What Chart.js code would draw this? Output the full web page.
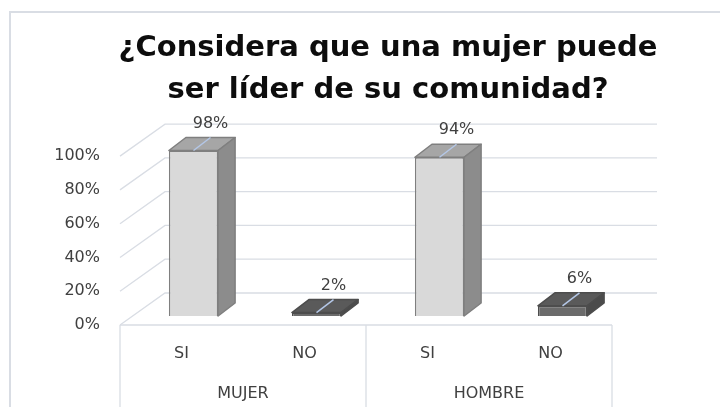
<!DOCTYPE html>
<html>
<head>
<meta charset="utf-8">
<script src="https://cdn.jsdelivr.net/npm/chart.js@4/dist/chart.umd.min.js"></script>
<style>
  html, body { margin: 0; padding: 0; background: #fff; }
  #wrap { width: 720px; height: 407px; }
</style>
</head>
<body>
<div id="wrap"><canvas id="chart"></canvas></div>
<script>
// data
const categories = ['SI', 'NO', 'SI', 'NO'];
const groups = ['MUJER', 'HOMBRE'];
const values = [98, 2, 94, 6];
const yTicks = [0, 20, 40, 60, 80, 100];
const titleLines = ['¿Considera que una mujer puede', 'ser líder de su comunidad?'];

// look
const FONT = "'DejaVu Sans', 'Open Sans', sans-serif";
const TEXT = '#404040';
const GRID = '#d9dde4';
const frontColors = ['#d9d9d9', '#6b6b6b', '#d9d9d9', '#6b6b6b'];
const topColors = ['#a6a6a6', '#5a5a5a', '#a6a6a6', '#5a5a5a'];
const sideColors = ['#8c8c8c', '#4b4b4b', '#8c8c8c', '#4b4b4b'];
const edgeColors = ['#7f7f7f', '#4d4d4d', '#7f7f7f', '#4d4d4d'];

// fake 3d offsets
const WALL_DX = 45, WALL_DY = 32;        // floor depth (front -> back wall)
const BAR_SHIFT_X = 12, BAR_SHIFT_Y = 9; // bars sit a bit behind the front edge
const BAR_DX = 17, BAR_DY = 13;          // depth of each bar

const box3d = {
    id: 'box3d',
    beforeDraw(chart) {
        const { ctx, chartArea: a, scales: { x, y } } = chart;
        ctx.save();
        ctx.strokeStyle = GRID;

        // outer frame of the picture
        ctx.lineWidth = 2;
        ctx.beginPath();
        ctx.moveTo(10, chart.height);
        ctx.lineTo(10, 12);
        ctx.lineTo(chart.width, 12);
        ctx.stroke();

        // side wall + back wall grid lines
        ctx.lineWidth = 1.3;
        y.ticks.forEach(t => {
            const py = y.getPixelForValue(t.value);
            ctx.beginPath();
            ctx.moveTo(a.left, py);
            ctx.lineTo(a.left + WALL_DX, py - WALL_DY);
            ctx.lineTo(a.right + WALL_DX, py - WALL_DY);
            ctx.stroke();
        });

        // floor front edge and the category boxes under it
        const mid = (x.getPixelForValue(1) + x.getPixelForValue(2)) / 2;
        ctx.beginPath();
        ctx.moveTo(a.left, a.bottom);
        ctx.lineTo(a.right, a.bottom);
        [a.left, mid, a.right].forEach(px => {
            ctx.moveTo(px, a.bottom);
            ctx.lineTo(px, chart.height);
        });
        ctx.stroke();
        ctx.restore();
    },
    beforeDatasetsDraw(chart) {
        const ctx = chart.ctx;
        const meta = chart.getDatasetMeta(0);
        ctx.save();
        ctx.translate(BAR_SHIFT_X, -BAR_SHIFT_Y);
        meta.data.forEach((el, i) => {
            const { x, y, base, width } = el.getProps(['x', 'y', 'base', 'width'], true);
            const l = x - width / 2, r = x + width / 2;
            ctx.lineWidth = 1.5;
            ctx.lineJoin = 'round';
            ctx.strokeStyle = edgeColors[i];

            // top face
            ctx.fillStyle = topColors[i];
            ctx.beginPath();
            ctx.moveTo(l, y);
            ctx.lineTo(l + BAR_DX, y - BAR_DY);
            ctx.lineTo(r + BAR_DX, y - BAR_DY);
            ctx.lineTo(r, y);
            ctx.closePath();
            ctx.fill();
            ctx.stroke();

            // right face
            ctx.fillStyle = sideColors[i];
            ctx.beginPath();
            ctx.moveTo(r, y);
            ctx.lineTo(r + BAR_DX, y - BAR_DY);
            ctx.lineTo(r + BAR_DX, base - BAR_DY);
            ctx.lineTo(r, base);
            ctx.closePath();
            ctx.fill();
            ctx.stroke();
        });
        // front faces are drawn by chart.js inside this translation
    },
    afterDatasetsDraw(chart) {
        const ctx = chart.ctx;
        const meta = chart.getDatasetMeta(0);
        const data = chart.data.datasets[0].data;

        // small leader line across the top of each bar
        ctx.strokeStyle = '#b4c7e7';
        ctx.lineWidth = 1.5;
        meta.data.forEach(el => {
            const { x, y } = el.getProps(['x', 'y'], true);
            ctx.beginPath();
            ctx.moveTo(x, y);
            ctx.lineTo(x + BAR_DX, y - BAR_DY);
            ctx.stroke();
        });
        ctx.restore();

        // value labels
        ctx.save();
        ctx.font = '16px ' + FONT;
        ctx.fillStyle = TEXT;
        ctx.textAlign = 'center';
        ctx.textBaseline = 'middle';
        meta.data.forEach((el, i) => {
            const { x, y } = el.getProps(['x', 'y'], true);
            ctx.fillText(data[i] + '%', x + BAR_SHIFT_X + BAR_DX, y - BAR_SHIFT_Y - BAR_DY - 14);
        });
        ctx.restore();
    }
};

const tickFont = { family: FONT, size: 16 };
const hidden = { display: false, drawTicks: false };

new Chart(document.getElementById('chart'), {
    type: 'bar',
    data: {
        labels: categories,
        datasets: [{
            data: values,
            backgroundColor: frontColors,
            borderColor: edgeColors,
            borderWidth: 1.5,
            categoryPercentage: 1,
            barPercentage: 0.4,
            clip: false
        }]
    },
    options: {
        responsive: true,
        maintainAspectRatio: false,
        animation: false,
        layout: { padding: { left: 56, right: 0, top: 0, bottom: 0 } },
        plugins: {
            legend: { display: false },
            tooltip: { enabled: false },
            title: {
                display: true,
                text: titleLines,
                color: '#0d0d0d',
                font: { family: FONT, size: 29, weight: 'bold', lineHeight: 1.45 },
                padding: { top: 27, bottom: 45 }
            }
        },
        scales: {
            y: {
                min: 0,
                max: 100,
                afterBuildTicks: s => { s.ticks = yTicks.map(v => ({ value: v })); },
                afterFit: s => { s.width = 64; },
                ticks: { callback: v => v + '%', color: TEXT, font: tickFont, padding: 20 },
                grid: hidden,
                border: { display: false }
            },
            // empty space on the right where the back wall runs on
            yRight: {
                position: 'right',
                afterFit: s => { s.width = 108; },
                ticks: { display: false },
                grid: hidden,
                border: { display: false }
            },
            x: {
                afterFit: s => { s.height = 50; },
                ticks: { color: TEXT, font: tickFont, padding: 19, maxRotation: 0 },
                grid: hidden,
                border: { display: false }
            },
            x2: {
                type: 'category',
                labels: groups,
                position: 'bottom',
                offset: true,
                afterFit: s => { s.height = 32; },
                ticks: { color: TEXT, font: tickFont, padding: 9, maxRotation: 0 },
                grid: hidden,
                border: { display: false }
            }
        }
    },
    plugins: [box3d]
});
</script>
</body>
</html>
